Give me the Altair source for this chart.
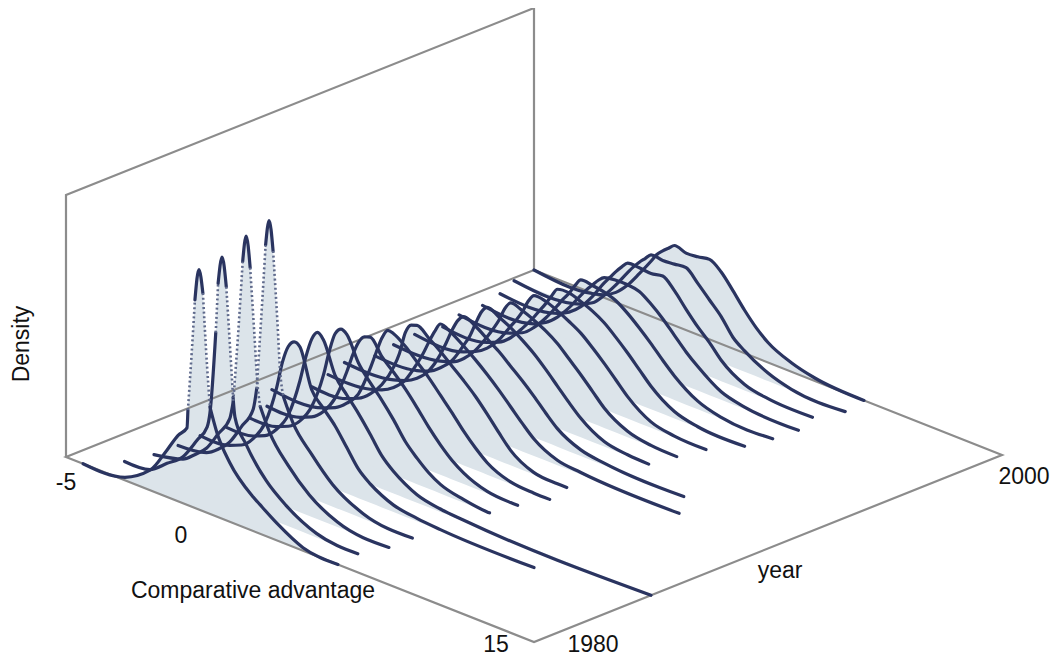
import altair as alt
import pandas as pd

# Density values are in hundredths of a unit; the back wall reaches 2.62 units.
years = list(range(1980, 2001))

# Narrow-peak years: own comparative-advantage samples
adv1980 = [-4.27,-2.48,-1.41,-0.68,-0.21,0.17,0.21,0.38,0.51,0.68,0.85,1.03,1.15,1.45,2.0,3.0,3.29,4.02,5.13,6.62]
den1980 = [0,3,20,47,66,77,95,157,208,240,218,146,107,84,59,34,29,17,3,0]
adv1981 = [-3.5,-2.41,-1.68,-1.0,-0.4,0.03,0.15,0.4,0.5,0.67,0.85,1.0,1.14,1.22,1.7,2.55,3.4,4.7,6.47]
den1981 = [0,2,15,28,50,67,82,165,215,243,215,160,107,88,65,37,20,4,0]
adv1982 = [-3.24,-2.0,-1.5,-1.0,-0.5,0.0,0.15,0.4,0.55,0.7,0.87,1.05,1.18,1.3,1.7,2.5,3.4,4.6,6.8]
den1982 = [0,7,16,27,46,66,85,170,228,255,225,160,112,90,68,42,21,5,0]
adv1983 = [-3.21,-2.0,-1.5,-1.0,-0.5,0.0,0.15,0.38,0.53,0.68,0.85,1.03,1.15,1.3,1.7,2.5,3.4,4.7,6.8]
den1983 = [0,4,12,24,44,66,88,175,235,261,232,165,115,90,68,44,22,5,0]

# Later years share a sampling grid, plus their own first and last value
adv_grid = [-2,-1.5,-1,-0.5,0,0.25,0.5,0.75,1,1.5,2,2.5,3,3.5,4,4.5,5,6,7]
adv_first = [-3.27,-3.12,-3.14,-3.41,-4.2,-3.5,-3.8,-4.1,-3.8,-4.0,-4.1,-3.9,-4.2,-4.2,-4.45,-4.85,-5.0]
adv_last = [11,15,7.1,7.3,7.67,7.4,11.2,10.4,7.9,8.1,8.35,9,9.2,9.3,8.9,9.3,9.1]
den1984 = [2,7,18,38,78,106,124,131,128,90,76,63,46,29,19,12,7,3,1]
den1985 = [2,7,18,37,76,102,122,131,126,95,80,66,50,33,22,14,8,3,1]
den1986 = [2,7,17,36,72,98,118,125,122,98,83,70,55,38,26,16,9,3,0]
den1987 = [2,7,17,35,66,85,100,108,110,95,84,72,58,43,30,19,11,2,0]
den1988 = [2,7,16,30,60,78,95,105,104,96,85,74,61,48,34,22,12,2,0]
den1989 = [2,7,16,30,52,68,91,101,103,95,86,76,66,55,42,28,15,2,0]
den1990 = [2,6,13,25,46,58,72,85,95,90,82,73,63,52,40,28,17,5,2]
den1991 = [2,6,13,25,46,60,75,87,93,88,80,72,62,52,41,29,18,6,2]
den1992 = [2,6,14,26,46,57,72,86,93,88,82,74,65,54,42,30,19,5,1]
den1993 = [2,6,14,27,45,55,66,80,88,85,80,74,66,55,44,32,20,6,1]
den1994 = [2,7,15,28,46,55,65,78,86,85,80,74,67,57,46,34,22,6,1]
den1995 = [2,7,16,30,46,55,64,74,83,84,80,75,68,58,47,35,23,7,1]
den1996 = [2,7,17,31,48,57,65,75,83,82,80,76,68,58,47,35,24,8,1]
den1997 = [2,8,18,32,49,57,64,71,76,78,78,76,68,58,46,34,24,8,2]
den1998 = [3,9,19,34,52,60,68,75,81,81,80,82,72,58,45,34,21,6,1]
den1999 = [3,9,21,36,53,61,68,74,80,79,80,81,70,58,46,30,21,8,1]
den2000 = [3,10,22,38,55,64,70,75,80,77,78,80,72,58,43,30,20,9,3]

late = [den1984,den1985,den1986,den1987,den1988,den1989,den1990,den1991,den1992,
        den1993,den1994,den1995,den1996,den1997,den1998,den1999,den2000]
early = [(adv1980,den1980),(adv1981,den1981),(adv1982,den1982),(adv1983,den1983)]

rows, line_rows = [], []
def add(year, advs, dens, spike):
    for a, d in zip(advs, dens):
        rows.append({"year": year, "adv": a, "density": d / 100})
    n = len(advs)
    if spike:
        pk = dens.index(max(dens))
        i1 = next(i for i in range(n) if dens[i] >= 85)
        i2 = next(i for i in range(n) if dens[i] >= 208)
        i3 = next(i for i in range(pk, n) if dens[i] <= 232)
        i4 = next(i for i in range(pk, n) if dens[i] <= 110)
        parts = [(0,i1,"solid"),(i1,i2,"dotted"),(i2,i3,"solid"),(i3,i4,"dotted"),(i4,n-1,"solid")]
    else:
        parts = [(0,n-1,"solid")]
    for k,(s,e,style) in enumerate(parts):
        for i in range(s,e+1):
            line_rows.append({"year":year,"adv":advs[i],"density":dens[i]/100,
                              "piece":f"{year}-{k}","style":style})

for y,(a,d) in zip(years[:4],early):
    add(y,a,d,True)
for y,d,f,l in zip(years[4:],late,adv_first,adv_last):
    add(y,[f]+adv_grid+[l],[0]+d+[0],False)

frame = pd.DataFrame({"adv":[-5,-5,-5,-5,15,15,-5,-5],
                      "year":[1980,1980,2000,2000,2000,1980,1980,2000],
                      "density":[0,2.62,2.62,0,0,0,0,0],
                      "i":list(range(8))})

NAVY = "#2a3460"
FILL = "#dce4ea"
GREY = "#8c8c8c"
FONT = "Liberation Sans"

xs = alt.Scale(domain=[8,1050], nice=False, zero=False)
ys = alt.Scale(domain=[658,8], nice=False, zero=False)
X = alt.X("sx:Q", scale=xs, axis=None)
Y = alt.Y("sy:Q", scale=ys, axis=None)

def project(c):
    return c.transform_calculate(
        sx="66+23.4*(datum.adv+5+datum.year-1980)",
        base="457+9.25*(datum.adv+5)-9.35*(datum.year-1980)",
    ).transform_calculate(sy="datum.base-100*datum.density")

curves = pd.DataFrame(rows)
pieces = pd.DataFrame(line_rows)

fills = project(alt.Chart(curves).mark_area(color=FILL, opacity=1, interpolate="monotone")).encode(
    x=X, y=Y, y2="base:Q", detail="year:N")
box = project(alt.Chart(frame).mark_line(color=GREY, strokeWidth=2.2)).encode(
    x=X, y=Y, order="i:Q")
solid = project(alt.Chart(pieces).transform_filter("datum.style=='solid'").mark_line(
    color=NAVY, strokeWidth=3.2, strokeCap="round", strokeJoin="round", interpolate="monotone")).encode(
    x=X, y=Y, detail="piece:N")
dotted = project(alt.Chart(pieces).transform_filter("datum.style=='dotted'").mark_line(
    color="#5f6a8c", strokeWidth=2.6, strokeDash=[2,2.6], interpolate="monotone")).encode(
    x=X, y=Y, detail="piece:N")

labels = [
    ("-5", -5, 1980, 0, 0, 26, 0),
    ("0", 0, 1980, 0, -2, 33, 0),
    ("15", 15, 1980, 0, -38, 3, 0),
    ("1980", 15, 1980, 0, 59, 3, 0),
    ("2000", 15, 2000, 0, 22, 22, 0),
    ("year", 15, 1990, 0, 12, 22, 0),
    ("Comparative advantage", 5, 1980, 0, -47, 41, 0),
    ("Density", -5, 1980, 1.31, -18, -44, 270),
]
texts = []
for t,a,y,d,dx,dy,ang in labels:
    texts.append(project(alt.Chart(pd.DataFrame({"adv":[a],"year":[y],"density":[d],"t":[t]})).mark_text(
        font=FONT, fontSize=23, color="#111111", dx=dx, dy=dy, angle=ang, align="center", baseline="middle")).encode(
        x=X, y=Y, text="t:N"))

chart = alt.layer(fills, box, solid, dotted, *texts).properties(
    width=1042, height=650, padding=0,
    autosize=alt.AutoSizeParams(type="none"),
).configure_view(stroke=None)

chart.save("out.html", embed_options={"renderer": "svg", "actions": False})
